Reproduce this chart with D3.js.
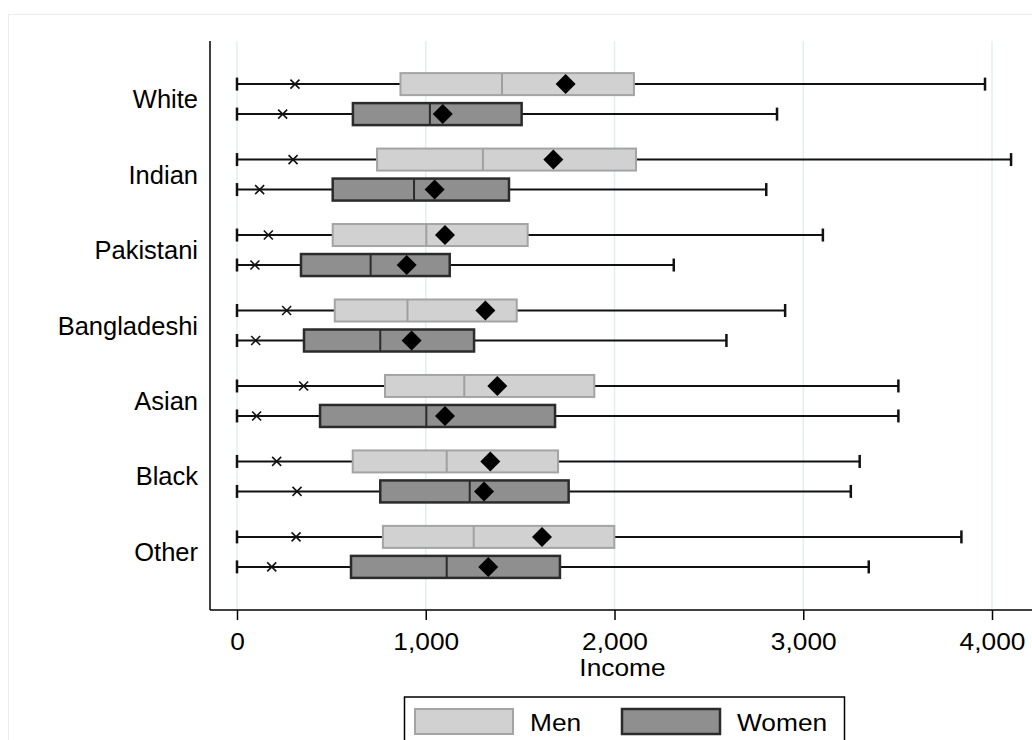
<!DOCTYPE html>
<html>
<head>
<meta charset="utf-8">
<script src="https://cdn.jsdelivr.net/npm/d3@7/dist/d3.min.js"></script>
<style>
  body { margin: 0; background: #fff; }
  svg { display: block; }
</style>
</head>
<body>
<div id="chart"></div>
<script>
// groups, top to bottom
var categories = ["White", "Indian", "Pakistani", "Bangladeshi", "Asian", "Black", "Other"];
var sexes = ["Men", "Women"];

// men
var menQ1     = [866, 742, 507, 518, 784, 613, 773];
var menMedian = [1404, 1303, 1003, 903, 1204, 1111, 1254];
var menQ3     = [2103, 2114, 1540, 1482, 1893, 1701, 1999];
var menMean   = [1741, 1676, 1102, 1316, 1379, 1342, 1616];
var menLow    = [0, 0, 0, 0, 0, 0, 0];
var menHigh   = [3963, 4101, 3104, 2904, 3504, 3299, 3838];
var menCross  = [307, 297, 166, 263, 353, 210, 313];

// women
var womenQ1     = [614, 507, 339, 355, 440, 759, 604];
var womenMedian = [1022, 938, 708, 759, 1003, 1233, 1111];
var womenQ3     = [1508, 1441, 1127, 1256, 1685, 1757, 1711];
var womenMean   = [1090, 1047, 899, 925, 1102, 1309, 1331];
var womenLow    = [0, 0, 0, 0, 0, 0, 0];
var womenHigh   = [2861, 2804, 2314, 2593, 3504, 3252, 3347];
var womenCross  = [242, 120, 95, 99, 104, 318, 184];

var xTicks = [0, 1000, 2000, 3000, 4000];

var width = 1032, height = 740;
var plotLeft = 210, plotTop = 41, plotBottom = 610;
var font = "Liberation Sans, Arial, Helvetica, sans-serif";
var stretch = "scale(1.12,1)";   // x-axis / legend text is a bit wide in the original

var styles = {
  Men:   { fill: "#d1d1d1", stroke: "#a4a4a4", median: "#a0a0a0", sw: 2 },
  Women: { fill: "#8f8f8f", stroke: "#2b2b2b", median: "#2b2b2b", sw: 2.5 }
};

var rows = [];
categories.forEach(function(c, i) {
  rows.push({ cat: c, sex: "Men", q1: menQ1[i], med: menMedian[i], q3: menQ3[i],
              mean: menMean[i], lo: menLow[i], hi: menHigh[i], cross: menCross[i] });
  rows.push({ cat: c, sex: "Women", q1: womenQ1[i], med: womenMedian[i], q3: womenQ3[i],
              mean: womenMean[i], lo: womenLow[i], hi: womenHigh[i], cross: womenCross[i] });
});

var svg = d3.select("#chart").append("svg")
    .attr("width", width)
    .attr("height", height);

// faint graph region border
svg.append("rect")
    .attr("x", 8.5).attr("y", 14.5)
    .attr("width", 1200).attr("height", 900)
    .attr("fill", "none")
    .attr("stroke", "#ececec");

var x = d3.scaleLinear().domain([0, 4000]).range([237, 992]);

var y = d3.scalePoint()
    .domain(categories)
    .range([plotTop, plotBottom])
    .padding(0.77);

var sub = d3.scalePoint().domain(sexes).range([-15, 15]);

function rowY(d) { return y(d.cat) + sub(d.sex); }

var boxH = 22, capH = 13;

// grid lines
svg.append("g").selectAll("line")
    .data(xTicks)
    .enter().append("line")
    .attr("x1", function(d) { return x(d); })
    .attr("x2", function(d) { return x(d); })
    .attr("y1", plotTop)
    .attr("y2", plotBottom)
    .attr("stroke", "#e4edf1")
    .attr("stroke-width", 1.5);

// axes
svg.append("line")
    .attr("x1", plotLeft).attr("x2", plotLeft)
    .attr("y1", plotTop).attr("y2", plotBottom)
    .attr("stroke", "#000").attr("stroke-width", 1.5);

var xAxis = svg.append("g")
    .attr("transform", "translate(0," + plotBottom + ")")
    .call(d3.axisBottom(x)
      .tickValues(xTicks)
      .tickSize(10)
      .tickPadding(13)
      .tickFormat(d3.format(",")));
xAxis.select(".domain").remove();
xAxis.selectAll(".tick line").attr("stroke", "#000").attr("stroke-width", 1.5);
xAxis.selectAll("text")
    .attr("font-family", font)
    .attr("font-size", 23.5)
    .attr("fill", "#000")
    .attr("transform", stretch);

svg.append("line")
    .attr("x1", plotLeft).attr("x2", width)
    .attr("y1", plotBottom).attr("y2", plotBottom)
    .attr("stroke", "#000").attr("stroke-width", 1.5);

svg.append("g")
    .attr("transform", "translate(" + (x(2000) + 8) + ",676)")
  .append("text")
    .attr("text-anchor", "middle")
    .attr("font-family", font)
    .attr("font-size", 23.5)
    .attr("transform", stretch)
    .text("Income");

// category labels
svg.append("g").selectAll("text")
    .data(categories)
    .enter().append("text")
    .attr("x", 198)
    .attr("y", function(d) { return y(d) + 9; })
    .attr("text-anchor", "end")
    .attr("font-family", font)
    .attr("font-size", 25.5)
    .text(function(d) { return d; });

var g = svg.append("g").selectAll("g")
    .data(rows)
    .enter().append("g");

// whiskers
g.append("line")
    .attr("x1", function(d) { return x(d.lo); })
    .attr("x2", function(d) { return x(d.hi); })
    .attr("y1", rowY).attr("y2", rowY)
    .attr("stroke", "#111").attr("stroke-width", 2);

g.append("line")
    .attr("x1", function(d) { return x(d.lo); })
    .attr("x2", function(d) { return x(d.lo); })
    .attr("y1", function(d) { return rowY(d) - capH / 2; })
    .attr("y2", function(d) { return rowY(d) + capH / 2; })
    .attr("stroke", "#111").attr("stroke-width", 2.5);

g.append("line")
    .attr("x1", function(d) { return x(d.hi); })
    .attr("x2", function(d) { return x(d.hi); })
    .attr("y1", function(d) { return rowY(d) - capH / 2; })
    .attr("y2", function(d) { return rowY(d) + capH / 2; })
    .attr("stroke", "#111").attr("stroke-width", 2.5);

// boxes
g.append("rect")
    .attr("x", function(d) { return x(d.q1); })
    .attr("width", function(d) { return x(d.q3) - x(d.q1); })
    .attr("y", function(d) { return rowY(d) - boxH / 2; })
    .attr("height", boxH)
    .attr("fill", function(d) { return styles[d.sex].fill; })
    .attr("stroke", function(d) { return styles[d.sex].stroke; })
    .attr("stroke-width", function(d) { return styles[d.sex].sw; });

g.append("line")
    .attr("x1", function(d) { return x(d.med); })
    .attr("x2", function(d) { return x(d.med); })
    .attr("y1", function(d) { return rowY(d) - boxH / 2; })
    .attr("y2", function(d) { return rowY(d) + boxH / 2; })
    .attr("stroke", function(d) { return styles[d.sex].median; })
    .attr("stroke-width", 2);

// cross markers
var cs = 4.5;
g.append("path")
    .attr("d", function(d) {
      var cx = x(d.cross), cy = rowY(d);
      return "M" + (cx - cs) + "," + (cy - cs) + "L" + (cx + cs) + "," + (cy + cs) +
             "M" + (cx - cs) + "," + (cy + cs) + "L" + (cx + cs) + "," + (cy - cs);
    })
    .attr("stroke", "#111").attr("stroke-width", 1.6).attr("fill", "none");

// mean diamonds
var dm = 10;
g.append("path")
    .attr("d", function(d) {
      var cx = x(d.mean), cy = rowY(d);
      return "M" + cx + "," + (cy - dm) + "L" + (cx + dm) + "," + cy +
             "L" + cx + "," + (cy + dm) + "L" + (cx - dm) + "," + cy + "Z";
    })
    .attr("fill", "#000");

// legend
var legend = svg.append("g");
legend.append("rect")
    .attr("x", 404.5).attr("y", 697)
    .attr("width", 440).attr("height", 80)
    .attr("fill", "#fff")
    .attr("stroke", "#000").attr("stroke-width", 1.5);

var legX = d3.scalePoint().domain(sexes).range([415, 622]);
var item = legend.selectAll("g")
    .data(sexes)
    .enter().append("g")
    .attr("transform", function(d) { return "translate(" + legX(d) + ",709)"; });

item.append("rect")
    .attr("width", 98).attr("height", 25)
    .attr("fill", function(d) { return styles[d].fill; })
    .attr("stroke", function(d) { return styles[d].stroke; })
    .attr("stroke-width", function(d) { return styles[d].sw; });

item.append("g")
    .attr("transform", "translate(115,22)")
  .append("text")
    .attr("font-family", font)
    .attr("font-size", 23.5)
    .attr("transform", stretch)
    .text(function(d) { return d; });
</script>
</body>
</html>
